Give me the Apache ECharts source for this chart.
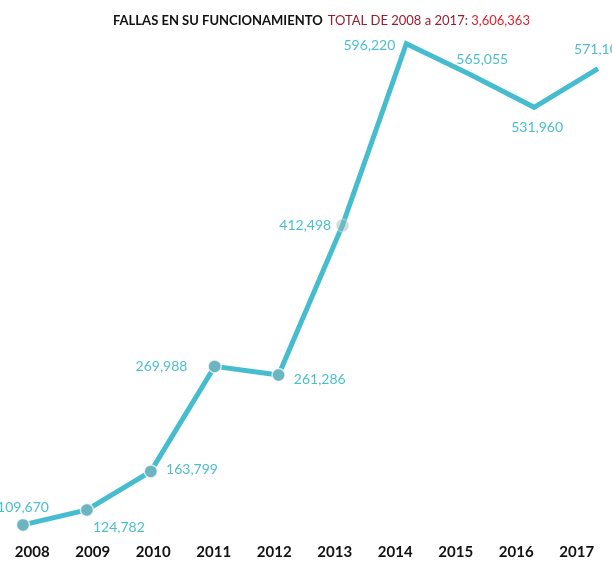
<!DOCTYPE html>
<html>
<head>
<meta charset="utf-8">
<script src="https://cdn.jsdelivr.net/npm/echarts@6/dist/echarts.min.js"></script>
<style>
  html, body { margin: 0; padding: 0; background: #fff; }
  #chart { width: 612px; height: 570px; }
</style>
</head>
<body>
<div id="chart"></div>
<script>
  // data
  const years = ["2008", "2009", "2010", "2011", "2012", "2013", "2014", "2015", "2016", "2017"];
  const fallas = [109670, 124782, 163799, 269988, 261286, 412498, 596220, 565055, 531960, 571105];
  const total = 3606363;

  // per-point label placement and marker look (style only)
  const labelPos = ["top", "bottom", "right", "left", "right", "left", "left", "top", "bottom", "top"];
  const labelOff = [[0, 5], [32, -5], [0, -2], [-12, 0], [0, 4], [4, 0], [-3, 2], [12, 0], [3, 5], [2, -4]];
  const markerKind = ["full", "full", "full", "full", "full", "faded", "none", "none", "none", "none"];

  const C = { line: "#45bdcf", label: "#4cbfcf", dot: "#6bb5c0", faded: "rgba(150,180,185,0.45)", dark: "#111", wine: "#9b1b30", red: "#e0202a" };
  const fmt = (n) => n.toLocaleString("en-US");

  const data = fallas.map((v, i) => ({
    value: [+years[i], v],
    symbolSize: markerKind[i] === "none" ? 0 : 13,
    itemStyle: {
      color: markerKind[i] === "faded" ? C.faded : C.dot,
      borderColor: markerKind[i] === "faded" ? "rgba(255,255,255,0.3)" : "rgba(255,255,255,0.7)"
    },
    label: { position: labelPos[i], offset: labelOff[i] }
  }));

  const chart = echarts.init(document.getElementById("chart"), null, { renderer: "canvas" });
  chart.setOption({
    animation: false,
    title: {
      left: 108, top: 7,
      text: `{a|FALLAS EN SU FUNCIONAMIENTO} {b|TOTAL DE 2008 a 2017: }{c|${fmt(total)}}`,
      textStyle: {
        rich: {
          a: { fontFamily: "Lato", fontWeight: 700, fontSize: 13, color: C.dark },
          b: { fontFamily: "Lato", fontWeight: 400, fontSize: 13, color: C.wine },
          c: { fontFamily: "Lato", fontWeight: 400, fontSize: 13, color: C.red }
        }
      }
    },
    grid: { left: 2, right: 5, top: 40, bottom: 35.5 },
    xAxis: [
      {
        type: "category", data: years, boundaryGap: true,
        axisLine: { show: false }, axisTick: { show: false }, splitLine: { show: false },
        axisLabel: { margin: 10, color: C.dark, fontFamily: "Lato", fontWeight: 700, fontSize: 15 }
      },
      {
        type: "value", min: 2007.6713, max: 2017.1409, show: false
      }
    ],
    yAxis: {
      type: "value", min: 100000, max: 600000, show: false
    },
    series: [{
      type: "line", xAxisIndex: 1, data,
      symbol: "circle",
      lineStyle: { color: C.line, width: 5, join: "miter" },
      itemStyle: { borderWidth: 1.5 },
      label: {
        show: true, color: C.label, fontFamily: "Lato", fontSize: 14, distance: 8,
        formatter: (p) => fmt(p.value[1])
      },
      z: 2
    }]
  });
</script>
</body>
</html>
